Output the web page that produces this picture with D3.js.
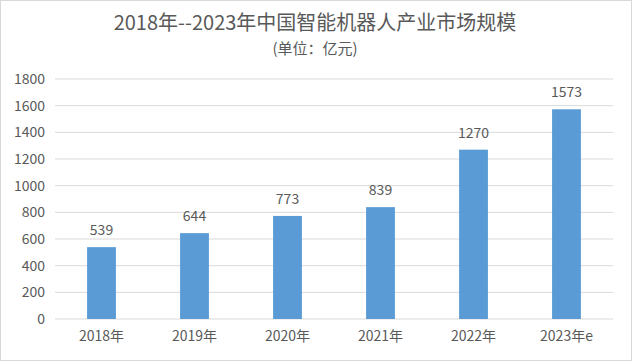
<!DOCTYPE html>
<html>
<head>
<meta charset="utf-8">
<script src="https://cdn.jsdelivr.net/npm/d3@7"></script>
<style>
  body { margin: 0; background: #fff; }
  text { font-family: "Noto Sans CJK SC", "Noto Sans", sans-serif; fill: #595959; }
</style>
</head>
<body>
<div id="chart"></div>
<script>
var years = ["2018年", "2019年", "2020年", "2021年", "2022年", "2023年e"];
var values = [539, 644, 773, 839, 1270, 1573];
var yTicks = [0, 200, 400, 600, 800, 1000, 1200, 1400, 1600, 1800];

var W = 632, H = 361;
var margin = {top: 79, right: 19, bottom: 42, left: 55},
    width = W - margin.left - margin.right,
    height = H - margin.top - margin.bottom;

var root = d3.select("#chart")
  .append("svg")
    .attr("width", W)
    .attr("height", H);

root.append("rect")
  .attr("x", 0.5).attr("y", 0.5)
  .attr("width", W - 1).attr("height", H - 1)
  .attr("fill", "#fff")
  .attr("stroke", "#d9d9d9");

root.append("text")
  .attr("x", 315).attr("y", 30)
  .attr("text-anchor", "middle")
  .style("font-size", "20px")
  .text("2018年--2023年中国智能机器人产业市场规模");

root.append("text")
  .attr("x", 315).attr("y", 54)
  .attr("text-anchor", "middle")
  .style("font-size", "15px")
  .text("(单位：亿元)");

var svg = root.append("g")
  .attr("transform", "translate(" + margin.left + "," + margin.top + ")");

var x = d3.scaleBand()
  .domain(years)
  .range([0, width])
  .paddingInner(0.69)
  .paddingOuter(0.345);

var y = d3.scaleLinear()
  .domain([0, 1800])
  .range([height, 0]);

// gridlines
svg.append("g")
  .selectAll("line")
  .data(yTicks)
  .enter()
  .append("line")
    .attr("x1", 0).attr("x2", width)
    .attr("y1", function (d) { return y(d); })
    .attr("y2", function (d) { return y(d); })
    .attr("stroke", "#d9d9d9")
    .attr("stroke-width", 1);

var yAxis = svg.append("g")
  .call(d3.axisLeft(y).tickValues(yTicks).tickFormat(d3.format("d")).tickSize(0).tickPadding(10));
yAxis.select(".domain").remove();
yAxis.selectAll("text").style("font-size", "14px").attr("fill", "#595959");

var xAxis = svg.append("g")
  .attr("transform", "translate(0," + height + ")")
  .call(d3.axisBottom(x).tickSize(0).tickPadding(12));
xAxis.select(".domain").remove();
xAxis.selectAll("text").style("font-size", "14px").attr("fill", "#595959");

svg.append("g")
  .selectAll("rect")
  .data(values)
  .enter()
  .append("rect")
    .attr("x", function (d, i) { return x(years[i]); })
    .attr("y", function (d) { return y(d); })
    .attr("width", x.bandwidth())
    .attr("height", function (d) { return height - y(d); })
    .attr("fill", "#5b9bd5");

svg.append("g")
  .selectAll("text")
  .data(values)
  .enter()
  .append("text")
    .attr("x", function (d, i) { return x(years[i]) + x.bandwidth() / 2; })
    .attr("y", function (d) { return y(d) - 12; })
    .attr("text-anchor", "middle")
    .style("font-size", "14px")
    .text(function (d) { return d; });
</script>
</body>
</html>
